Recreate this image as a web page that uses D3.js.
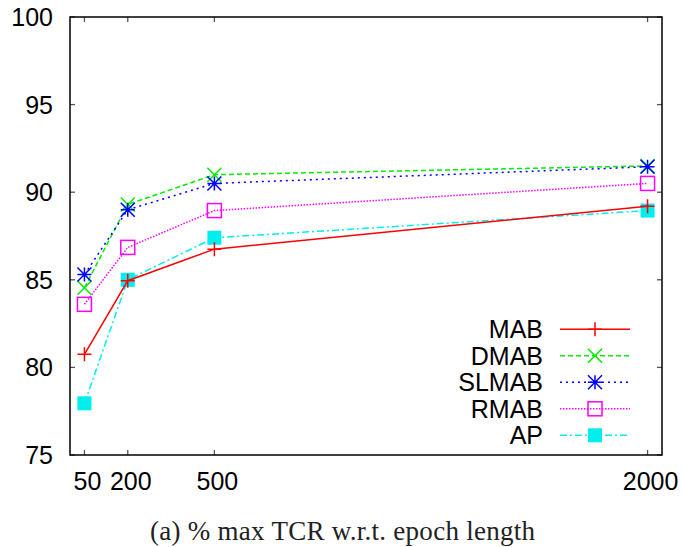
<!DOCTYPE html>
<html>
<head>
<meta charset="utf-8">
<script src="https://cdn.jsdelivr.net/npm/d3@7"></script>
<style>
  html, body { margin: 0; padding: 0; background: #fff; }
  svg { display: block; }
</style>
</head>
<body>
<svg id="chart" width="682" height="547"></svg>
<script>
// Epoch lengths on the x axis
const epochs = [50, 200, 500, 2000];
const yTicks = [75, 80, 85, 90, 95, 100];

// % max TCR per method
const mab   = [80.75, 84.95, 86.75, 89.2];
const dmab  = [84.55, 89.3, 91.0, 91.5];
const slmab = [85.3, 89.0, 90.5, 91.45];
const rmab  = [83.6, 86.85, 88.95, 90.5];
const ap    = [77.95, 85.0, 87.4, 88.95];

const seriesNames = ["MAB", "DMAB", "SLMAB", "RMAB", "AP"];
const seriesValues = [mab, dmab, slmab, rmab, ap];
const seriesColors = ["#ff0000", "#00ee00", "#0000ff", "#ff00ff", "#00eeee"];
const seriesDash = ["none", "5,3", "2,4", "1.5,1.5", "7,3,2,3"];
const seriesMarker = ["plus", "cross", "star", "square", "filled"];

const svg = d3.select("#chart");
const plotL = 70, plotR = 662, plotT = 17, plotB = 455;

const x = d3.scaleLinear().domain([0, 2050]).range([plotL, plotR]);
const y = d3.scaleLinear().domain([75, 100]).range([plotB, plotT]);

const font = "'Liberation Sans', Arial, sans-serif";

// Ticks (inward, mirrored on all four sides)
const tickLen = 5;
const tg = svg.append("g").attr("stroke", "#555").attr("stroke-width", 1.3);
yTicks.forEach(v => {
  tg.append("line").attr("x1", plotL).attr("x2", plotL + tickLen).attr("y1", y(v)).attr("y2", y(v));
  tg.append("line").attr("x1", plotR).attr("x2", plotR - tickLen).attr("y1", y(v)).attr("y2", y(v));
});
epochs.forEach(v => {
  tg.append("line").attr("x1", x(v)).attr("x2", x(v)).attr("y1", plotB).attr("y2", plotB - tickLen);
  tg.append("line").attr("x1", x(v)).attr("x2", x(v)).attr("y1", plotT).attr("y2", plotT + tickLen);
});

// Frame
svg.append("rect")
  .attr("x", plotL).attr("y", plotT)
  .attr("width", plotR - plotL).attr("height", plotB - plotT)
  .attr("fill", "none").attr("stroke", "#000").attr("stroke-width", 1.5);

// Tick labels
svg.append("g").selectAll("text").data(yTicks).join("text")
  .attr("x", 53).attr("y", d => y(d) + 9)
  .attr("text-anchor", "end")
  .attr("font-family", font).attr("font-size", 25)
  .text(d => d);

svg.append("g").selectAll("text").data(epochs).join("text")
  .attr("x", d => x(d) + 3).attr("y", 490)
  .attr("text-anchor", "middle")
  .attr("font-family", font).attr("font-size", 25)
  .text(d => d);

// Marker drawing
function drawMarker(g, type, cx, cy, color) {
  const s = 7;
  if (type === "plus") {
    g.append("path").attr("d", `M${cx - s},${cy}H${cx + s}M${cx},${cy - s}V${cy + s}`)
      .attr("stroke", color).attr("stroke-width", 1.5).attr("fill", "none");
  } else if (type === "cross") {
    g.append("path").attr("d", `M${cx - s},${cy - s}L${cx + s},${cy + s}M${cx - s},${cy + s}L${cx + s},${cy - s}`)
      .attr("stroke", color).attr("stroke-width", 1.5).attr("fill", "none");
  } else if (type === "star") {
    g.append("path").attr("d",
      `M${cx - s},${cy}H${cx + s}M${cx},${cy - s}V${cy + s}` +
      `M${cx - s},${cy - s}L${cx + s},${cy + s}M${cx - s},${cy + s}L${cx + s},${cy - s}`)
      .attr("stroke", color).attr("stroke-width", 1.5).attr("fill", "none");
  } else if (type === "square") {
    g.append("rect").attr("x", cx - s).attr("y", cy - s).attr("width", 2 * s).attr("height", 2 * s)
      .attr("stroke", color).attr("stroke-width", 1.5).attr("fill", "none");
  } else if (type === "filled") {
    g.append("rect").attr("x", cx - s).attr("y", cy - s).attr("width", 2 * s).attr("height", 2 * s)
      .attr("fill", color);
  }
}

const line = d3.line().x((d, i) => x(epochs[i])).y(d => y(d));

// Draw series (AP first so the others sit on top)
const order = [4, 3, 0, 1, 2];
order.forEach(k => {
  const g = svg.append("g");
  g.append("path").datum(seriesValues[k])
    .attr("d", line)
    .attr("fill", "none")
    .attr("stroke", seriesColors[k])
    .attr("stroke-width", 1.5)
    .attr("stroke-dasharray", seriesDash[k]);
  seriesValues[k].forEach((v, i) => drawMarker(g, seriesMarker[k], x(epochs[i]), y(v), seriesColors[k]));
});

// Legend
const legY0 = 329.3, legStep = 26.5;
seriesNames.forEach((name, k) => {
  const ly = legY0 + k * legStep;
  const g = svg.append("g");
  g.append("text").attr("x", 543).attr("y", ly + 9)
    .attr("text-anchor", "end")
    .attr("font-family", font).attr("font-size", 25)
    .text(name);
  g.append("line").attr("x1", 560).attr("x2", 630).attr("y1", ly).attr("y2", ly)
    .attr("stroke", seriesColors[k]).attr("stroke-width", 1.5)
    .attr("stroke-dasharray", seriesDash[k]);
  drawMarker(g, seriesMarker[k], 595, ly, seriesColors[k]);
});

// Caption
svg.append("text")
  .attr("x", 150).attr("y", 540)
  .attr("font-family", "'Liberation Serif', 'DejaVu Serif', serif")
  .attr("font-size", 27)
  .attr("textLength", 385)
  .attr("lengthAdjust", "spacing")
  .attr("fill", "#222")
  .text("(a) % max TCR w.r.t. epoch length");
</script>
</body>
</html>
